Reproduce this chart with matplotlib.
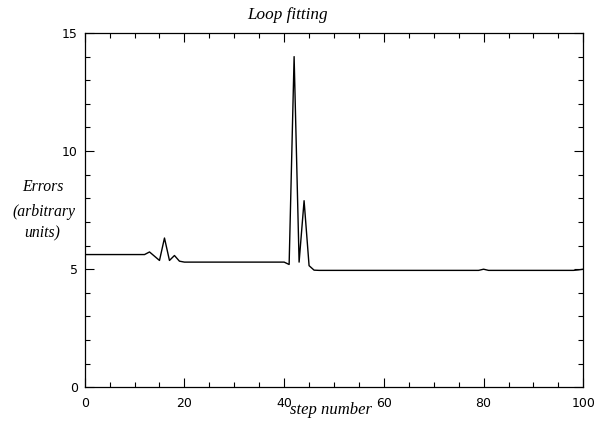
"""Loop fitting errors vs step number."""
import matplotlib

matplotlib.use("Agg")
import matplotlib.pyplot as plt
from matplotlib.ticker import MultipleLocator

steps = list(range(0, 101))
errors = [
    5.62, 5.62, 5.62, 5.62, 5.62, 5.62, 5.62, 5.62, 5.62, 5.62,   # 0-9
    5.62, 5.62, 5.62, 5.73, 5.55, 5.37, 6.32, 5.37, 5.58, 5.34,   # 10-19
    5.30, 5.30, 5.30, 5.30, 5.30, 5.30, 5.30, 5.30, 5.30, 5.30,   # 20-29
    5.30, 5.30, 5.30, 5.30, 5.30, 5.30, 5.30, 5.30, 5.30, 5.30,   # 30-39
    5.30, 5.20, 14.0, 5.30, 7.90, 5.15, 4.96, 4.95, 4.95, 4.95,   # 40-49
    4.95, 4.95, 4.95, 4.95, 4.95, 4.95, 4.95, 4.95, 4.95, 4.95,   # 50-59
    4.95, 4.95, 4.95, 4.95, 4.95, 4.95, 4.95, 4.95, 4.95, 4.95,   # 60-69
    4.95, 4.95, 4.95, 4.95, 4.95, 4.95, 4.95, 4.95, 4.95, 4.95,   # 70-79
    5.00, 4.95, 4.95, 4.95, 4.95, 4.95, 4.95, 4.95, 4.95, 4.95,   # 80-89
    4.95, 4.95, 4.95, 4.95, 4.95, 4.95, 4.95, 4.95, 4.95, 4.97,   # 90-99
    5.00,                                                         # 100
]

title = "Loop fitting"
xlabel = "step number"
ylabel_lines = ["Errors", "(arbitrary", "units)"]

serif = dict(family=["Liberation Serif", "DejaVu Serif"], style="italic")

fig = plt.figure(figsize=(5.95, 4.25), dpi=100, facecolor="white")
ax = fig.add_axes([84.7 / 595, 1 - 387.3 / 425, (583.3 - 84.7) / 595, (387.3 - 33) / 425])

ax.plot(steps, errors, color="black", lw=1.0)
ax.set_xlim(0, 100)
ax.set_ylim(0, 15)

ax.xaxis.set_major_locator(MultipleLocator(20))
ax.xaxis.set_minor_locator(MultipleLocator(5))
ax.yaxis.set_major_locator(MultipleLocator(5))
ax.yaxis.set_minor_locator(MultipleLocator(1))
ax.tick_params(which="both", direction="in", top=True, right=True, width=0.8,
               labelsize=9, labelfontfamily="DejaVu Sans")
ax.tick_params(which="major", length=6.5)
ax.tick_params(which="minor", length=3.5)
ax.tick_params(axis="x", pad=7)
ax.tick_params(axis="y", pad=5)
for s in ax.spines.values():
    s.set_linewidth(0.9)

fig.text(288 / 595, 1 - 15 / 425, title, ha="center", va="center", fontsize=12.3, **serif)
fig.text(331 / 595, 1 - 410 / 425, xlabel, ha="center", va="center", fontsize=12, **serif)
for label, (x, y) in zip(ylabel_lines, [(43, 187), (44, 212), (42, 233)]):
    fig.text(x / 595, 1 - y / 425, label, ha="center", va="center", fontsize=11.3, **serif)

fig.savefig("out.png", dpi=100, facecolor="white")
